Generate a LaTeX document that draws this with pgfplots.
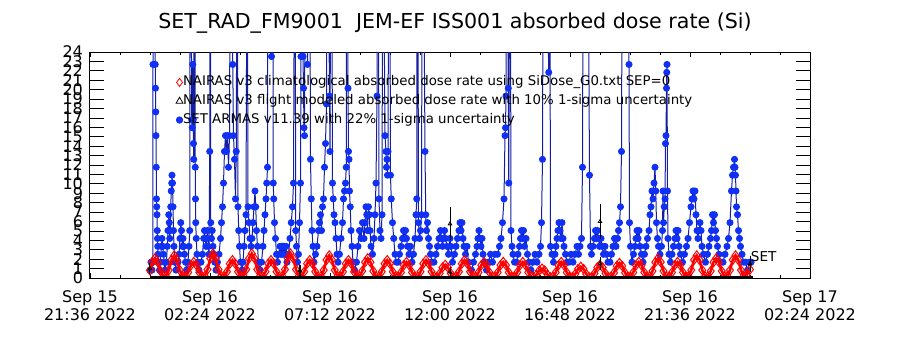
\documentclass[border=0pt]{standalone}
\usepackage{fontspec}
\setmainfont{DejaVu Sans}
\usepackage{pgfplots}
\pgfplotsset{compat=1.18}
\definecolor{markblue}{RGB}{16,48,245}
\definecolor{lineblue}{RGB}{20,30,160}
\begin{document}
\begin{tikzpicture}
\useasboundingbox (-45pt,-36pt) rectangle (405pt,139pt);
\begin{axis}[
  at={(0pt,0pt)}, anchor=south west,
  scale only axis, width=360pt, height=113pt,
  xmin=0, xmax=28.8, ymin=0, ymax=24,
  xtick={0,4.8,9.6,14.4,19.2,24,28.8},
  xticklabels={{Sep 15\\21:36 2022},{Sep 16\\02:24 2022},{Sep 16\\07:12 2022},{Sep 16\\12:00 2022},{Sep 16\\16:48 2022},{Sep 16\\21:36 2022},{Sep 17\\02:24 2022}},
  minor x tick num=3,
  ytick={0,1,...,24},
  tick align=inside,
  major tick length=7.2pt, minor tick length=1.4pt,
  major x tick style={/pgfplots/major tick length=2.3pt},
  axis line style={line width=0.5pt},
  tick style={black, line width=0.4pt},
  /pgf/number format/assume math mode=true,
  yticklabel style={font=\fontsize{8}{8}\selectfont},
  xticklabel style={align=center, font=\fontsize{8}{6.6}\selectfont, yshift=-3pt},
  clip marker paths=true,
  title={SET\_RAD\_FM9001\ \ JEM-EF ISS001 absorbed dose rate (Si)},
  title style={font=\fontsize{10.3}{12}\selectfont, xshift=2.5pt},
  legend style={draw=none, fill=none, inner sep=0pt, at={(axis description cs:0.119,0.895)}, anchor=north west, font=\fontsize{6.66}{7}\selectfont, nodes={inner sep=0pt, text height=4.9pt, text depth=1.4pt, anchor=west}, row sep=3.1pt, /tikz/every even column/.append style={column sep=2.5pt}},
  legend cell align=left,
]
\addlegendimage{legend image code/.code={\draw[red, line width=0.4pt] plot[mark=diamond, mark size=2pt] coordinates {(0pt,0pt)};}}
\addlegendentry{NAIRAS v3 climatological absorbed dose rate using SiDose\_G0.txt SEP=0}
\addlegendimage{legend image code/.code={\draw[black, line width=0.4pt] plot[mark=triangle, mark size=2pt] coordinates {(0pt,0pt)};}}
\addlegendentry{NAIRAS v3 flight modeled absorbed dose rate with 10\% 1-sigma uncertainty}
\addlegendimage{legend image code/.code={\draw[markblue, fill=markblue] plot[mark=*, mark size=1.6pt] coordinates {(0pt,0pt)};}}
\addlegendentry{SET ARMAS v11.39 with 22\% 1-sigma uncertainty}

% SET ARMAS (blue)
\addplot[lineblue, line width=0.5pt, mark=*, mark size=1.5pt, mark options={draw=markblue, fill=markblue}, forget plot] coordinates {
(2.40,0.84)(2.44,1.68)(2.48,0.84)(2.51,1.68)(2.52,22.68)(2.53,30)(2.59,30)(2.61,22.68)(2.62,20.16)(2.63,17.64)(2.64,15.12)(2.65,11.76)(2.66,8.4)(2.67,7.56)(2.68,6.72)(2.69,5.04)(2.70,4.2)(2.71,3.36)(2.72,2.52)(2.74,1.68)(2.78,0.84)
(2.82,1.68)(2.85,3.36)(2.88,4.2)(2.91,3.36)(2.94,2.52)(2.97,1.68)(3.00,0.84)
(3.06,1.68)(3.09,3.36)(3.12,5.04)(3.15,6.72)(3.17,5.88)(3.19,4.2)(3.21,5.04)(3.23,7.56)(3.25,9.24)(3.27,10.08)(3.28,10.92)(3.30,10.08)(3.32,7.56)(3.34,5.04)(3.36,3.36)(3.39,1.68)(3.44,0.84)
(3.52,1.68)(3.56,2.52)(3.60,4.2)(3.63,5.88)(3.66,5.04)(3.69,3.36)(3.72,4.2)(3.75,3.36)(3.78,2.52)(3.82,1.68)(3.86,0.84)
(3.92,1.68)(3.96,3.36)(3.99,5.04)(4.00,30)(4.05,30)(4.07,16.8)(4.09,15.96)(4.11,22.68)(4.13,16.8)(4.14,14.28)(4.15,12.6)(4.16,30)(4.20,30)(4.21,11.76)(4.22,8.4)(4.23,5.88)(4.25,4.2)(4.28,2.52)(4.32,1.68)(4.36,0.84)
(4.44,1.68)(4.50,2.52)(4.55,4.2)(4.58,5.04)(4.61,4.2)(4.64,3.36)(4.67,4.2)(4.70,5.04)(4.73,3.36)(4.76,2.52)(4.79,13.44)(4.80,30)(4.82,30)(4.83,5.88)(4.86,4.2)(4.89,5.04)(4.92,3.36)(4.95,2.52)(4.99,1.68)(5.04,0.84)
(5.10,1.68)(5.16,2.52)(5.22,4.2)(5.26,5.88)(5.30,7.56)(5.34,10.08)(5.38,13.44)(5.42,15.12)(5.46,13.44)(5.50,15.12)(5.54,11.76)(5.58,15.12)(5.60,30)(5.68,30)(5.71,22.68)(5.74,15.12)(5.78,12.6)(5.82,8.4)(5.85,13.44)(5.87,30)(5.90,30)(5.92,7.56)(5.95,5.04)(5.98,3.36)(6.02,1.68)(6.08,0.84)
(6.12,1.68)(6.16,3.36)(6.20,5.04)(6.24,6.72)(6.27,30)(6.30,30)(6.32,7.56)(6.36,5.88)(6.40,4.2)(6.44,3.36)(6.48,4.2)(6.52,5.88)(6.56,7.56)(6.60,9.24)(6.63,7.56)(6.66,5.04)(6.70,3.36)(6.74,1.68)(6.80,0.84)
(6.86,1.68)(6.92,3.36)(6.96,5.04)(7.00,6.72)(7.04,8.4)(7.07,10.08)(7.10,11.76)(7.11,30)(7.22,30)(7.26,23.52)(7.28,30)(7.32,30)(7.33,10.08)(7.35,8.4)(7.38,5.88)(7.42,4.2)(7.46,2.52)(7.50,1.68)
(7.55,2.52)(7.60,3.36)(7.64,2.52)(7.68,3.36)(7.72,2.52)(7.76,3.36)(7.80,2.52)(7.84,3.36)(7.88,1.68)
(7.94,2.52)(8.00,4.2)(8.05,5.88)(8.10,7.56)(8.14,10.08)(8.17,30)(8.21,30)(8.23,5.04)(8.26,3.36)(8.30,1.68)
(8.34,2.52)(8.38,5.88)(8.42,10.08)(8.44,23.52)(8.45,30)(8.50,30)(8.52,23.52)(8.54,20.16)(8.56,15.96)(8.58,15.12)(8.60,30)(8.68,30)(8.70,22.68)(8.72,30)(8.80,30)(8.82,12.6)(8.85,8.4)(8.88,5.04)(8.92,3.36)(8.96,1.68)
(9.02,2.52)(9.08,3.36)(9.14,5.04)(9.18,5.88)(9.22,6.72)(9.26,5.04)(9.30,7.56)(9.34,8.4)(9.38,11.76)(9.42,14.28)(9.46,18.48)(9.47,30)(9.55,30)(9.58,19.32)(9.60,13.44)(9.62,30)(9.68,30)(9.70,10.08)(9.73,8.4)(9.76,6.72)(9.80,5.88)(9.84,4.2)(9.88,2.52)(9.92,1.68)
(9.98,2.52)(10.04,4.2)(10.10,5.88)(10.14,8.4)(10.18,9.24)(10.22,10.08)(10.25,11.76)(10.26,30)(10.31,30)(10.32,20.16)(10.34,13.44)(10.36,12.6)(10.38,9.24)(10.41,7.56)(10.44,5.04)(10.48,3.36)(10.52,1.68)(10.58,0.84)
(10.66,1.68)(10.72,3.36)(10.78,5.04)(10.84,4.2)(10.90,5.88)(10.96,4.2)(11.00,5.88)(11.04,7.56)(11.07,6.72)(11.10,5.04)(11.14,7.56)(11.17,6.72)(11.20,5.04)(11.24,3.36)(11.30,2.52)(11.36,4.2)(11.40,6.72)(11.44,10.08)(11.48,19.32)(11.50,30)(11.54,30)(11.56,8.4)(11.60,5.04)
(11.64,4.2)(11.68,6.72)(11.70,30)(11.76,30)(11.80,15.12)(11.84,13.44)(11.86,11.76)(11.88,12.6)(11.90,10.92)(11.92,13.44)(11.94,30)(12.00,30)(12.02,10.92)(12.05,8.4)(12.10,5.88)(12.15,4.2)(12.20,2.52)(12.26,1.68)
(12.32,1.68)(12.38,2.52)(12.44,3.36)(12.50,4.2)(12.54,5.04)(12.58,4.2)(12.62,5.04)(12.66,4.2)(12.70,3.36)(12.76,2.52)(12.82,3.36)(12.88,1.68)
(12.94,2.52)(13.00,4.2)(13.04,6.72)(13.07,8.4)(13.08,30)(13.12,30)(13.14,5.88)(13.18,4.2)(13.22,5.04)(13.26,6.72)(13.28,30)(13.36,30)(13.40,13.44)(13.43,6.72)(13.46,5.04)(13.50,5.88)(13.54,4.2)(13.58,3.36)(13.62,2.52)(13.68,1.68)
(13.76,1.68)(13.84,2.52)(13.90,3.36)(13.96,4.2)(14.02,5.04)(14.06,4.2)(14.10,3.36)(14.14,4.2)(14.18,5.04)(14.22,4.2)(14.28,3.36)(14.34,2.52)(14.40,4.2)(14.44,3.36)(14.50,1.68)
(14.58,2.52)(14.64,3.36)(14.70,4.2)(14.76,5.04)(14.80,5.88)(14.84,5.04)(14.88,5.88)(14.92,4.2)(14.96,3.36)(15.02,2.52)(15.08,3.36)(15.14,1.68)
(15.26,0.84)(15.34,1.68)(15.42,2.52)(15.48,3.36)(15.52,4.2)(15.56,5.04)(15.60,4.2)(15.64,3.36)(15.68,4.2)(15.72,2.52)(15.78,1.68)(15.86,0.84)
(15.94,1.68)(16.02,2.52)(16.10,1.68)(16.20,2.52)(16.30,2.52)(16.38,3.36)(16.44,4.2)(16.50,5.88)(16.56,8.4)(16.60,15.12)(16.62,15.96)(16.64,19.32)(16.66,30)(16.71,30)(16.73,20.16)(16.75,10.08)(16.78,30)(16.82,30)(16.84,5.04)(16.88,3.36)(16.92,2.52)(16.98,1.68)
(17.06,1.68)(17.12,2.52)(17.18,3.36)(17.22,4.2)(17.26,5.04)(17.30,4.2)(17.34,5.04)(17.38,3.36)(17.44,4.2)(17.50,2.52)(17.56,1.68)(17.64,0.84)
(17.72,1.68)(17.80,2.52)(17.88,1.68)(17.96,2.52)(18.02,3.36)(18.06,5.88)(18.10,12.6)(18.12,30)(18.30,30)(18.35,21.84)(18.37,30)(18.40,30)(18.42,3.36)(18.48,2.52)(18.54,1.68)
(18.60,2.52)(18.64,3.36)(18.68,4.2)(18.72,5.04)(18.76,5.88)(18.80,5.04)(18.84,4.2)(18.88,5.88)(18.92,4.2)(18.96,3.36)(19.02,2.52)(19.08,1.68)
(19.16,1.68)(19.24,2.52)(19.32,1.68)(19.40,2.52)(19.48,3.36)(19.54,2.52)(19.60,3.36)(19.66,4.2)(19.70,11.76)(19.72,30)(19.94,30)(19.98,10.92)(20.02,3.36)(20.06,2.52)
(20.12,3.36)(20.18,4.2)(20.22,5.04)(20.26,4.2)(20.30,5.04)(20.34,4.2)(20.38,3.36)(20.44,4.2)(20.48,3.36)(20.54,2.52)(20.60,3.36)(20.66,2.52)(20.72,1.68)
(20.80,1.68)(20.86,2.52)(20.92,3.36)(20.98,4.2)(21.04,3.36)(21.10,4.2)(21.14,5.04)(21.18,5.88)(21.22,7.56)(21.26,13.44)(21.28,30)(21.52,30)(21.56,22.68)(21.58,5.88)(21.62,3.36)(21.68,1.68)
(21.74,2.52)(21.80,3.36)(21.84,4.2)(21.88,5.04)(21.92,4.2)(21.96,5.04)(22.00,3.36)(22.06,2.52)(22.12,1.68)
(22.18,2.52)(22.24,3.36)(22.30,4.2)(22.36,5.04)(22.40,6.72)(22.44,7.56)(22.48,9.24)(22.52,8.4)(22.56,10.08)(22.60,11.76)(22.63,9.24)(22.66,5.88)(22.70,4.2)(22.74,3.36)(22.80,2.52)
(22.86,3.36)(22.90,5.04)(22.92,9.24)(22.94,5.88)(22.97,7.56)(23.00,8.4)(23.02,14.28)(23.04,15.12)(23.06,20.16)(23.07,21.84)(23.08,22.68)(23.10,9.24)(23.12,4.2)(23.16,2.52)
(23.22,1.68)(23.28,2.52)(23.34,3.36)(23.40,4.2)(23.44,5.04)(23.48,4.2)(23.52,5.04)(23.56,3.36)(23.62,2.52)(23.70,1.68)
(23.78,2.52)(23.86,3.36)(23.92,4.2)(23.98,5.88)(24.04,7.56)(24.08,8.4)(24.12,9.24)(24.16,8.4)(24.20,9.24)(24.24,6.72)(24.28,5.04)(24.32,4.2)(24.36,5.04)(24.40,5.88)(24.44,5.04)(24.48,3.36)(24.54,2.52)(24.62,1.68)
(24.70,2.52)(24.76,3.36)(24.82,4.2)(24.86,5.04)(24.90,6.72)(24.94,5.88)(24.98,6.72)(25.02,5.04)(25.06,4.2)(25.10,3.36)(25.16,2.52)(25.24,1.68)
(25.32,1.68)(25.40,2.52)(25.48,3.36)(25.54,4.2)(25.60,5.88)(25.66,9.24)(25.70,10.92)(25.74,11.76)(25.78,12.6)(25.80,11.76)(25.82,10.92)(25.84,9.24)(25.86,7.56)(25.90,6.72)(25.94,5.04)(25.98,4.2)(26.02,3.36)(26.08,2.52)(26.14,1.68)(26.22,1.68)(26.30,0.84)(26.38,1.68)(26.44,1.68)
};

% NAIRAS climatological (red diamonds)
\addplot[red, line width=1.3pt, mark=diamond, mark size=2.3pt, mark options={line width=0.5pt, solid}, forget plot] coordinates {
(2.40,0.80)(2.49,1.68)(2.60,2.1)(2.71,1.68)(2.82,0.74)(2.93,0.17)
(3.04,0.19)(3.15,0.84)(3.26,1.92)(3.37,2.4)(3.48,1.92)(3.59,0.84)(3.70,0.19)
(3.82,0.14)(3.93,0.60)(4.04,1.36)(4.15,1.7)(4.26,1.36)(4.37,0.60)(4.48,0.14)
(4.59,0.21)(4.70,0.91)(4.81,2.08)(4.92,2.6)(5.03,2.08)(5.14,0.91)(5.25,0.21)
(5.37,0.15)(5.48,0.67)(5.59,1.52)(5.70,1.9)(5.81,1.52)(5.92,0.67)(6.03,0.15)
(6.14,0.21)(6.25,0.91)(6.36,2.08)(6.47,2.6)(6.58,2.08)(6.69,0.91)(6.80,0.21)
(6.91,0.15)(7.02,0.67)(7.13,1.52)(7.24,1.9)(7.35,1.52)(7.46,0.67)(7.57,0.15)
(7.69,0.21)(7.80,0.91)(7.91,2.08)(8.02,2.6)(8.13,2.08)(8.24,0.91)(8.35,0.21)
(8.46,0.15)(8.57,0.67)(8.68,1.52)(8.79,1.9)(8.90,1.52)(9.01,0.67)(9.12,0.15)
(9.24,0.19)(9.35,0.84)(9.46,1.92)(9.57,2.4)(9.68,1.92)(9.79,0.84)(9.90,0.19)
(10.01,0.15)(10.12,0.67)(10.23,1.52)(10.34,1.9)(10.45,1.52)(10.56,0.67)(10.67,0.15)
(10.78,0.17)(10.89,0.74)(11.00,1.68)(11.11,2.1)(11.22,1.68)(11.33,0.74)(11.44,0.17)
(11.56,0.15)(11.67,0.67)(11.78,1.52)(11.89,1.9)(12.00,1.52)(12.11,0.67)(12.22,0.15)
(12.33,0.14)(12.44,0.60)(12.55,1.36)(12.66,1.7)(12.77,1.36)(12.88,0.60)(12.99,0.14)
(13.11,0.15)(13.22,0.67)(13.33,1.52)(13.44,1.9)(13.55,1.52)(13.66,0.67)(13.77,0.15)
(13.88,0.11)(13.99,0.49)(14.10,1.12)(14.21,1.4)(14.32,1.12)(14.43,0.49)(14.54,0.11)
(14.65,0.15)(14.76,0.67)(14.87,1.52)(14.98,1.9)(15.09,1.52)(15.20,0.67)(15.31,0.15)
(15.43,0.14)(15.54,0.60)(15.65,1.36)(15.76,1.7)(15.87,1.36)(15.98,0.60)(16.09,0.14)
(16.20,0.14)(16.31,0.60)(16.42,1.36)(16.53,1.7)(16.64,1.36)(16.75,0.60)(16.86,0.14)
(16.98,0.14)(17.09,0.60)(17.20,1.36)(17.31,1.7)(17.42,1.36)(17.53,0.60)(17.64,0.14)
(17.75,0.08)(17.86,0.35)(17.97,0.80)(18.08,1.0)(18.19,0.80)(18.30,0.35)(18.41,0.08)
(18.52,0.14)(18.63,0.60)(18.74,1.36)(18.85,1.7)(18.96,1.36)(19.07,0.60)(19.18,0.14)
(19.30,0.10)(19.41,0.42)(19.52,0.96)(19.63,1.2)(19.74,0.96)(19.85,0.42)(19.96,0.10)
(20.07,0.11)(20.18,0.49)(20.29,1.12)(20.40,1.4)(20.51,1.12)(20.62,0.49)(20.73,0.11)
(20.85,0.13)(20.96,0.56)(21.07,1.28)(21.18,1.6)(21.29,1.28)(21.40,0.56)(21.51,0.13)
(21.62,0.14)(21.73,0.60)(21.84,1.36)(21.95,1.7)(22.06,1.36)(22.17,0.60)(22.28,0.14)
(22.39,0.17)(22.50,0.74)(22.61,1.68)(22.72,2.1)(22.83,1.68)(22.94,0.74)(23.05,0.17)
(23.17,0.14)(23.28,0.60)(23.39,1.36)(23.50,1.7)(23.61,1.36)(23.72,0.60)(23.83,0.14)
(23.94,0.19)(24.05,0.84)(24.16,1.92)(24.27,2.4)(24.38,1.92)(24.49,0.84)(24.60,0.19)
(24.72,0.17)(24.83,0.74)(24.94,1.68)(25.05,2.1)(25.16,1.68)(25.27,0.74)(25.38,0.17)
(25.49,0.19)(25.60,0.84)(25.71,1.92)(25.82,2.4)(25.93,1.92)(26.04,0.84)(26.15,0.19)
(26.26,0.30)(26.40,0.90)
};

% NAIRAS flight modeled (black)
\addplot[black, line width=1.5pt, forget plot] coordinates {(2.40,0.08) (26.50,0.08)};
\addplot[black, only marks, mark=triangle, mark size=1pt, forget plot,
  error bars/.cd, y dir=both, y explicit,
  error bar style={draw=black, line width=0.5pt},
  error mark options={draw=black, mark size=2.3pt, line width=0.5pt}] coordinates {
(2.4,1.0) +- (0,0.12)
(8.4,0.8) +- (0,0.10)
(14.4,5.75) +- (0,1.25)
(14.4,0.64) +- (0,0.08)
(20.4,6.0) +- (0,1.4)
(20.4,1.55) +- (0,0.16)
(26.4,1.5) +- (0,0.4)
};

\node[rotate=90, font=\fontsize{7.9}{8}\selectfont] at (axis description cs:-0.0576,0.473) {dD(Si)/dt microGy/h};
\node[font=\fontsize{8}{8}\selectfont] at (axis description cs:0.5,-0.239) {UT time};
\node[anchor=west, font=\fontsize{6.8}{7}\selectfont, inner sep=0pt] at (axis cs:26.42,2.23) {SET};
\end{axis}
\end{tikzpicture}
\end{document}
